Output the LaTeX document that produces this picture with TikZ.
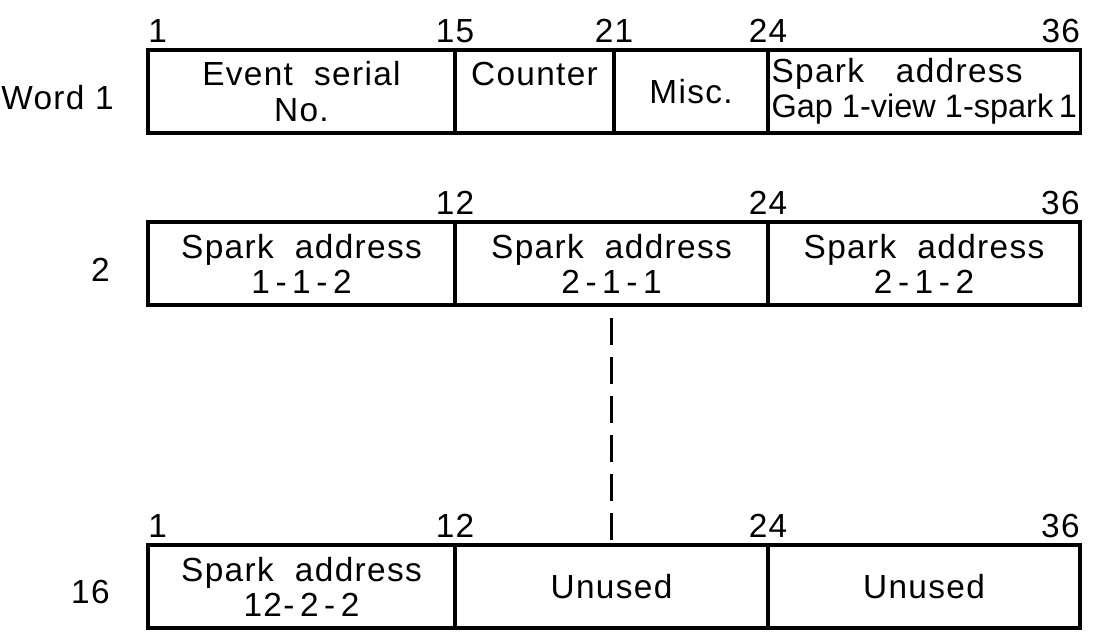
\documentclass[tikz,border=0pt]{standalone}
\usepackage{fontspec}
\setmainfont[LetterSpace=4]{Liberation Sans}
\newfontfamily\tightfont{Liberation Sans}

\begin{document}
\begin{tikzpicture}[
  field/.style={rectangle, draw, line width=1.8pt, minimum height=1.66cm,
                anchor=north west, outer sep=0pt, inner sep=2pt,
                font=\fontsize{19}{20}\selectfont, align=center},
  bitno/.style={anchor=south, inner sep=0pt, font=\fontsize{19}{20}\selectfont},
  wordno/.style={anchor=east, inner sep=0pt, font=\fontsize{19}{20}\selectfont},
  skipline/.style={line width=1.8pt, dash pattern=on 0.54cm off 0.24cm}
]
\useasboundingbox (0,0) rectangle (22.06,-12.68);

\node[field, minimum width=6.14cm] (ev)   at (2.96,-1.0)  {Event\ \ serial\\No.};
\node[field, minimum width=3.18cm] (cnt)  at (9.10,-1.0)  {Counter\\\mbox{}};
\node[field, minimum width=3.08cm] (misc) at (12.28,-1.0) {Misc.};
\node[field, minimum width=6.24cm, align=left] (sa1) at (15.36,-1.0)
    {Spark\ \ \ address\\{\tightfont\fontsize{18.5}{20}\selectfont Gap 1-view 1-spark\,1}};

\node[bitno, anchor=south west] (b1a) at ([yshift=0.14cm]ev.north west) {1};
\node[bitno] (b15)  at ([yshift=0.14cm]ev.north east)   {15};
\node[bitno] (b21)  at ([yshift=0.14cm]cnt.north east)  {21};
\node[bitno] (b24a) at ([yshift=0.14cm]misc.north east) {24};
\node[bitno, anchor=south east] (b36a) at ([yshift=0.14cm]sa1.north east) {36};

\node[wordno] (w1) at ([xshift=-0.68cm, yshift=-0.12cm]ev.west) {Word 1};

\node[field, minimum width=6.14cm] (s112) at (2.96,-4.44)  {Spark\ \ address\\1\,-\,1\,-\,2};
\node[field, minimum width=6.26cm] (s211) at (9.10,-4.44)  {Spark\ \ address\\2\,-\,1\,-\,1};
\node[field, minimum width=6.24cm] (s212) at (15.36,-4.44) {Spark\ \ address\\2\,-\,1\,-\,2};

\node[bitno] (b12b) at ([yshift=0.14cm]s112.north east) {12};
\node[bitno] (b24b) at ([yshift=0.14cm]s211.north east) {24};
\node[bitno, anchor=south east] (b36b) at ([yshift=0.14cm]s212.north east) {36};

\node[wordno] (w2) at ([xshift=-0.76cm, yshift=-0.12cm]s112.west) {2};

\node[field, minimum width=6.14cm] (s1222) at (2.96,-10.9)  {Spark\ \ address\\12-\,2\,-\,2};
\node[field, minimum width=6.26cm] (un1)   at (9.10,-10.9)  {Unused};
\node[field, minimum width=6.24cm] (un2)   at (15.36,-10.9) {Unused};

\node[bitno, anchor=south west] (b1c) at ([yshift=0.14cm]s1222.north west) {1};
\node[bitno] (b12c) at ([yshift=0.14cm]s1222.north east) {12};
\node[bitno] (b24c) at ([yshift=0.14cm]un1.north east)   {24};
\node[bitno, anchor=south east] (b36c) at ([yshift=0.14cm]un2.north east) {36};

\node[wordno] (w16) at ([xshift=-0.76cm, yshift=-0.12cm]s1222.west) {16};

\draw[skipline] ([yshift=-0.26cm]s211.south) -- ([yshift=0.1cm]s211.south |- un1.north);

\end{tikzpicture}
\end{document}
